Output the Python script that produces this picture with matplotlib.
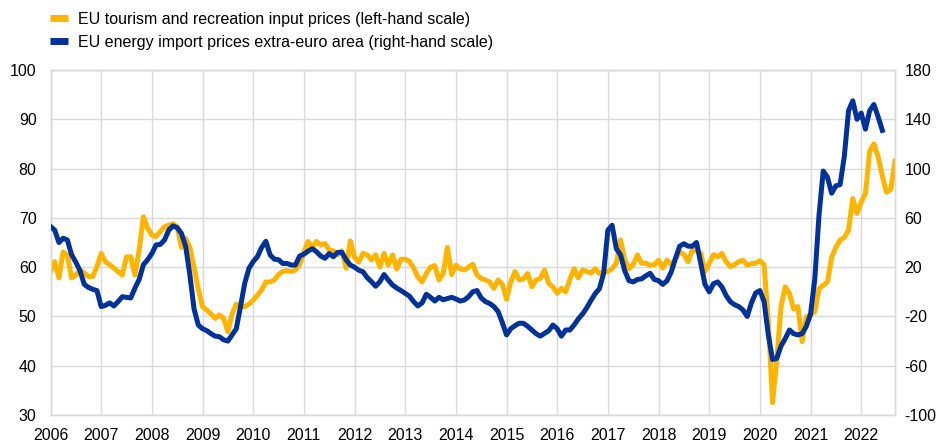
import matplotlib
matplotlib.use("Agg")
import matplotlib.pyplot as plt
from matplotlib.lines import Line2D
import numpy as np

plt.rcParams['font.family'] = ['Liberation Sans', 'DejaVu Sans']
plt.rcParams['axes.unicode_minus'] = False

# Monthly data starting January 2006
tourism = [
    59.1, 61.1, 57.8, 63.1, 62.4, 57.8, 58.4, 59.4, 58.8, 58.1, 58.1, 60.1,   # 2006
    62.8, 61.1, 60.5, 59.8, 59.1, 58.4, 62.1, 62.1, 58.4, 63.5, 70.2, 67.9,   # 2007
    66.5, 66.2, 67.2, 68.2, 68.5, 68.8, 68.2, 64.0, 65.8, 64.0, 60.0, 55.5,   # 2008
    52.0, 51.3, 50.5, 49.6, 50.3, 49.6, 46.9, 50.5, 52.5, 52.0, 52.0, 52.5,   # 2009
    53.3, 54.3, 55.4, 57.0, 57.0, 57.4, 58.5, 59.1, 59.3, 59.1, 59.4, 60.5,   # 2010
    63.0, 65.2, 64.0, 65.2, 64.5, 64.8, 63.5, 63.3, 62.5, 63.3, 59.8, 65.3,   # 2011
    62.0, 61.0, 62.8, 62.5, 61.5, 62.5, 60.0, 62.8, 60.4, 62.5, 59.6, 61.6,   # 2012
    61.6, 61.2, 59.8, 58.0, 57.0, 58.7, 60.0, 60.3, 57.4, 58.7, 64.0, 58.5,   # 2013
    60.4, 59.7, 59.4, 60.0, 60.6, 58.4, 57.7, 57.4, 57.0, 55.7, 57.4, 56.5,   # 2014
    53.5, 57.0, 59.1, 57.4, 57.6, 58.7, 56.0, 57.4, 57.7, 59.4, 56.7, 56.0,   # 2015
    54.7, 55.7, 55.0, 57.5, 59.7, 57.8, 59.4, 59.1, 58.8, 59.7, 58.7, 59.1,   # 2016
    59.1, 59.7, 60.8, 65.5, 61.5, 59.7, 60.5, 62.5, 60.8, 60.8, 60.4, 60.5,   # 2017
    61.4, 59.8, 61.4, 60.5, 61.6, 63.1, 62.6, 61.1, 63.5, 63.3, 62.8, 59.1,   # 2018
    60.8, 62.5, 62.1, 62.8, 61.1, 60.1, 60.5, 61.1, 61.4, 60.4, 60.7, 60.8,   # 2019
    61.3, 60.5, 49.0, 32.5, 41.0, 52.0, 56.0, 54.7, 51.5, 52.0, 44.9, 49.9,   # 2020
    50.3, 51.0, 55.6, 56.3, 57.0, 62.0, 64.0, 65.5, 66.0, 67.5, 73.9, 70.9,   # 2021
    73.2, 74.9, 83.5, 85.0, 82.4, 78.5, 75.2, 75.8, 81.5,                     # 2022
]

energy = [
    53, 50, 40, 43.5, 42, 30, 24, 17, 6, 3.5, 2, 1,                           # 2006
    -12, -11, -9, -11.5, -8, -4, -4.5, -5, 3, 10, 22, 26,                     # 2007
    31, 38, 38.5, 42, 50, 53.5, 52, 47.5, 37, 14, -14, -27,                   # 2008
    -30, -31.5, -34, -36, -36.5, -39, -40, -35, -30, -12, 7, 19,              # 2009
    24.5, 28.5, 36, 41, 30, 26.5, 26, 23, 23, 21.7, 21.7, 29,                 # 2010
    30.5, 33, 35, 32.5, 29, 27.2, 31, 28.5, 32, 32, 26, 21.7,                 # 2011
    20, 17.5, 16.3, 11.5, 8.2, 4.5, 8.2, 14, 9.5, 5.5, 3, 1,                  # 2012
    -1.2, -3.5, -8, -11.5, -9, -2, -4.5, -7.5, -4.5, -6.5, -5.5, -4.5,        # 2013
    -5.8, -7.5, -6.7, -4, 0, 1, -5, -8, -9.5, -12, -16, -25,                  # 2014
    -35, -30, -27.5, -25.5, -25.6, -28, -31, -34, -36, -33.7, -31.5, -27,     # 2015
    -30, -36, -31, -31, -27, -22, -18, -13, -7, -1.5, 2.5, 15,                # 2016
    50, 54, 35, 30, 17, 9, 8, 10, 10.5, 13, 15, 10,                           # 2017
    9, 6, 9, 16, 27, 37, 39, 37, 37, 40, 23, 6,                               # 2018
    0, 6.5, 8, 4, -3, -8, -10.5, -12, -14.8, -20, -9, -1,                     # 2019
    1, -8, -35, -55, -54, -44, -38, -31, -34, -35, -34, -28,                  # 2020
    -18, 10, 62, 98, 93, 80, 86, 87, 110, 147, 155, 140,                      # 2021
    145, 132, 147, 152, 142, 131,                                             # 2022
]

label_tourism = "EU tourism and recreation input prices (left-hand scale)"
label_energy = "EU energy import prices extra-euro area (right-hand scale)"
years = list(range(2006, 2023))

yellow = "#FFB400"
blue = "#003299"
grid_c = "#D9D9D9"

t_x = 2006 + np.arange(len(tourism)) / 12.0
e_x = 2006 + np.arange(len(energy)) / 12.0

fig = plt.figure(figsize=(9.41, 4.41), dpi=100)
ax = fig.add_axes([50.5 / 941, 1 - 415 / 441, (895 - 50.5) / 941, (415 - 70) / 441])
ax2 = ax.twinx()

ax.plot(t_x, tourism, color=yellow, lw=3.6, solid_joinstyle='round', zorder=3)
ax2.plot(e_x, energy, color=blue, lw=3.6, solid_joinstyle='round', zorder=4)

ax.set_xlim(2006, 2006 + 200 / 12)
ax.set_ylim(30, 100)
ax2.set_ylim(-100, 180)
ax.set_yticks(np.arange(30, 101, 10))
ax2.set_yticks(np.arange(-100, 181, 40))
ax.set_xticks(years)
ax.set_xticklabels([str(y) for y in years])

ax.grid(True, color=grid_c, lw=1)
ax.set_axisbelow(True)
fs = 11.5
for a in (ax, ax2):
    for s in a.spines.values():
        s.set_color(grid_c)
        s.set_linewidth(1)
    a.tick_params(length=0, labelsize=fs, colors="#000000")
ax.tick_params(axis='y', pad=10)
ax.tick_params(axis='x', pad=9)
ax2.tick_params(axis='y', pad=7)

handles = [Line2D([0], [0], color=yellow, lw=5, solid_capstyle='butt'),
           Line2D([0], [0], color=blue, lw=5, solid_capstyle='butt')]
fig.legend(handles, [label_tourism, label_energy], loc='upper left',
           bbox_to_anchor=(50 / 941, 1 - 12 / 441), frameon=False,
           fontsize=fs, handlelength=1.1, handletextpad=0.65,
           borderpad=0, borderaxespad=0, labelspacing=0.5)

fig.savefig("out.png", dpi=100)
